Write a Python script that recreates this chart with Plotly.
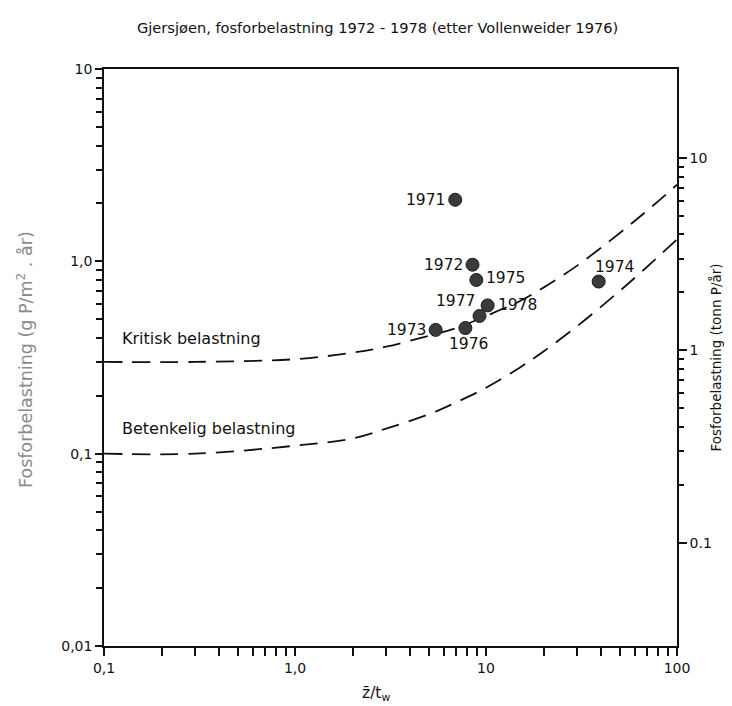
import math
import plotly.graph_objects as go

# ---- data ----
years = ["1971", "1972", "1975", "1977", "1978", "1976", "1973", "1974"]
ratio_z_tw = [6.9, 8.5, 8.9, 9.25, 10.2, 7.8, 5.45, 38.9]          # z/tw (m/år)
p_load = [2.09, 0.96, 0.80, 0.52, 0.59, 0.45, 0.44, 0.785]          # g P/m2 år

curve_x = [0.1, 0.3, 1, 2, 3, 5, 7, 10, 15, 20, 30, 50, 70, 100]
critical_load = [0.30, 0.30, 0.31, 0.335, 0.36, 0.41, 0.45, 0.52, 0.62, 0.73, 0.95, 1.40, 1.84, 2.50]
concern_load = [0.10, 0.10, 0.11, 0.12, 0.135, 0.16, 0.185, 0.22, 0.28, 0.34, 0.46, 0.70, 0.94, 1.30]

# label offsets (px) for the year labels: (xshift, yshift, xanchor)
label_pos = {
    "1971": (-8, 0, "right"), "1972": (-8, 0, "right"), "1975": (8, 2, "left"),
    "1977": (-24, 15, "center"), "1978": (8, 0, "left"), "1976": (3, -16, "center"),
    "1973": (-8, 0, "right"), "1974": (16, 15, "center"),
}

x_major = [0.1, 1, 10, 100]
x_major_text = ["0,1", "1,0", "10", "100"]
y_major = [0.01, 0.1, 1, 10]
y_major_text = ["0,01", "0,1", "1,0", "10"]
y2_major = [0.1, 1, 10]
y2_major_text = ["0.1", "1", "10"]
area_factor = 2.9  # tonn P/år per g P/m2 år

FONT = "DejaVu Sans, Verdana, sans-serif"

y_minor = [d * m for d in (0.01, 0.1, 1) for m in range(2, 10)]
x_minor = [d * m for d in (0.1, 1, 10) for m in range(2, 10)]
y2_minor = [d * m for d in (0.1, 1) for m in range(2, 10)]

fig = go.Figure()
dash = "18px,10px"
for ys in (critical_load, concern_load):
    fig.add_trace(go.Scatter(x=curve_x, y=ys, mode="lines",
                             line=dict(color="#111", width=1.8, dash=dash, shape="spline"),
                             hoverinfo="skip", showlegend=False))
fig.add_trace(go.Scatter(x=ratio_z_tw, y=p_load, mode="markers",
                         marker=dict(size=13, color="#3a3a3a", line=dict(color="#1a1a1a", width=1)),
                         showlegend=False))
# invisible trace to activate the right axis
fig.add_trace(go.Scatter(x=[1], y=[1], yaxis="y2", mode="markers",
                         marker=dict(opacity=0), showlegend=False, hoverinfo="skip"))

ann = []
for yr, xv, yv in zip(years, ratio_z_tw, p_load):
    xs, ys_, xa = label_pos[yr]
    ann.append(dict(x=math.log10(xv), y=math.log10(yv), xref="x", yref="y", text=yr,
                    showarrow=False, xshift=xs, yshift=ys_, xanchor=xa, yanchor="middle",
                    font=dict(size=15.5, color="#111", family=FONT)))

ann.append(dict(x=math.log10(0.122), y=math.log10(0.397), xref="x", yref="y",
                text="Kritisk belastning", showarrow=False, xanchor="left", yanchor="middle",
                font=dict(size=16, color="#111", family=FONT)))
ann.append(dict(x=math.log10(0.122), y=math.log10(0.1355), xref="x", yref="y",
                text="Betenkelig belastning", showarrow=False, xanchor="left", yanchor="middle",
                font=dict(size=16, color="#111", family=FONT)))
ann.append(dict(x=(369 - 96) / 573, y=1 + (61 - 20) / 577, xref="paper", yref="paper",
                text="Gjersjøen, fosforbelastning 1972 - 1978 (etter Vollenweider 1976)",
                showarrow=False, xanchor="center", yanchor="middle",
                font=dict(size=14.6, color="#111", family=FONT)))
ann.append(dict(xref="paper", yref="paper", x=(17 - 96) / 573, y=1 - (352 - 61) / 577,
                text="Fosforbelastning (g P/m<sup>2</sup> . år)", textangle=-90,
                showarrow=False, xanchor="center", yanchor="middle",
                font=dict(size=17.5, color="#8a8a8a", family=FONT)))
ann.append(dict(xref="paper", yref="paper", x=(368 - 96) / 573, y=-(686 - 638) / 577,
                text="z\u0304/t<sub>w</sub>",
                showarrow=False, xanchor="center", yanchor="middle",
                font=dict(size=15.5, color="#111", family=FONT)))

axis_common = dict(showgrid=False, zeroline=False, showline=True, linecolor="#111", linewidth=1.5,
                   ticks="outside", tickcolor="#111", tickwidth=1.5,
                   tickfont=dict(size=14, color="#111", family=FONT))

fig.update_layout(
    width=732, height=706, autosize=False,
    margin=dict(l=96, r=63, t=61, b=68),
    paper_bgcolor="white", plot_bgcolor="white",
    annotations=ann,
    xaxis=dict(type="log", range=[-1, 2], tickmode="array", tickvals=x_major, ticktext=x_major_text,
               ticklen=8, mirror=True,
               minor=dict(tickmode="array", tickvals=x_minor, ticks="outside", ticklen=8,
                          tickcolor="#111", tickwidth=1.5),
               **axis_common),
    yaxis=dict(type="log", range=[-2, 1], tickmode="array", tickvals=y_major, ticktext=y_major_text,
               ticklen=7,
               minor=dict(tickmode="array", tickvals=y_minor, ticks="outside", ticklen=6,
                          tickcolor="#111", tickwidth=1.5),
               **axis_common),
    yaxis2=dict(type="log", overlaying="y", side="right", anchor="x",
                range=[-2 + math.log10(area_factor), 1 + math.log10(area_factor)],
                tickmode="array", tickvals=y2_major, ticktext=y2_major_text, ticklen=8,
                minor=dict(tickmode="array", tickvals=y2_minor, ticks="outside", ticklen=5,
                           tickcolor="#111", tickwidth=1.5),
                title=dict(text="Fosforbelastning (tonn P/år)", standoff=1,
                           font=dict(size=13.5, color="#111", family=FONT)),
                **axis_common),
)
fig.write_html("out.html")
